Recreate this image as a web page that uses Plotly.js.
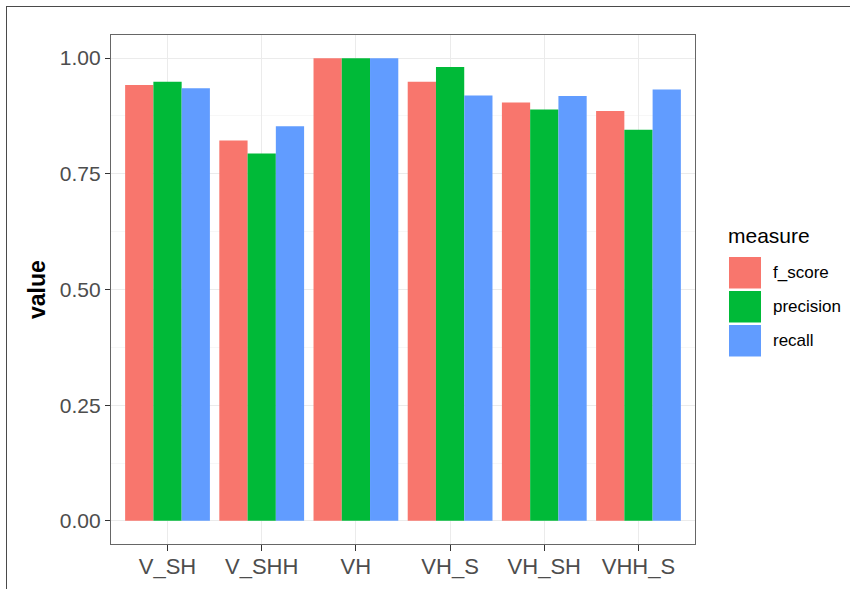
<!DOCTYPE html>
<html>
<head>
<meta charset="utf-8">
<script src="https://cdn.plot.ly/plotly-3.0.1.min.js"></script>
<style>
  html, body { margin: 0; padding: 0; background: #ffffff; }
  #wrap { position: relative; width: 850px; height: 589px; overflow: hidden; }
  #chart { width: 850px; height: 589px; }
  #frame { position: absolute; left: 6px; top: 6px; width: 900px; height: 700px;
           border-left: 1.6px solid #4a4a4a; border-top: 1.6px solid #4a4a4a; pointer-events: none; }
</style>
</head>
<body>
<div id="wrap">
  <div id="chart"></div>
  <div id="frame"></div>
</div>
<script>
// ---- data ----
const categories = ['V_SH', 'V_SHH', 'VH', 'VH_S', 'VH_SH', 'VHH_S'];
const fScore    = [0.942, 0.822, 1.000, 0.949, 0.904, 0.886];
const precision = [0.949, 0.794, 1.000, 0.981, 0.889, 0.845];
const recall    = [0.935, 0.853, 1.000, 0.919, 0.918, 0.932];
const measures  = ['f_score', 'precision', 'recall'];
const colors    = ['#F8766D', '#00BA38', '#619CFF'];
const yTicks    = [0, 0.25, 0.5, 0.75, 1.0];
const legendTitle = 'measure';
const yTitle = 'value';

const series = [fScore, precision, recall];

const traces = series.map((vals, i) => ({
  type: 'bar',
  x: categories,
  y: vals,
  name: measures[i],
  marker: { color: colors[i], line: { width: 0 } },
  showlegend: false,
  hoverinfo: 'x+y+name'
}));

// pixel helpers for the panel (left 111, right 695, top 35, bottom 544)
const L = 111, R = 695, T = 35, B = 544;
const px = v => (v - L) / (R - L);
const py = v => (B - v) / (B - T);

const shapes = [];
const annotations = [];

// y axis title
annotations.push({
  xref: 'paper', yref: 'paper', x: px(37), y: py(290),
  xanchor: 'center', yanchor: 'middle', textangle: -90, showarrow: false,
  text: '<b>' + yTitle + '</b>',
  font: { family: 'Liberation Sans, Arial, sans-serif', size: 23, color: '#000000' }
});

// legend (built from measures / colors)
annotations.push({
  xref: 'paper', yref: 'paper', x: px(726), y: py(235),
  xanchor: 'left', yanchor: 'middle', showarrow: false,
  text: legendTitle,
  font: { family: 'Liberation Sans, Arial, sans-serif', size: 21, color: '#000000' }
});
measures.forEach((m, i) => {
  const top = 257 + 34 * i;
  shapes.push({
    type: 'rect', xref: 'paper', yref: 'paper',
    x0: px(729), x1: px(761), y0: py(top), y1: py(top + 31.5),
    fillcolor: colors[i], line: { width: 0 }
  });
  annotations.push({
    xref: 'paper', yref: 'paper', x: px(771), y: py(top + 15.5),
    xanchor: 'left', yanchor: 'middle', showarrow: false,
    text: m,
    font: { family: 'Liberation Sans, Arial, sans-serif', size: 17, color: '#000000' }
  });
});

const tickFont = { family: 'Liberation Sans, Arial, sans-serif', size: 21, color: '#4D4D4D' };

const layout = {
  width: 850, height: 589,
  margin: { l: L, r: 850 - R, t: T, b: 589 - B, pad: 0 },
  paper_bgcolor: '#ffffff',
  plot_bgcolor: '#ffffff',
  barmode: 'group',
  bargap: 0.1,
  bargroupgap: 0,
  showlegend: false,
  xaxis: {
    type: 'category',
    range: [-0.6, categories.length - 0.4],
    showgrid: true, gridcolor: '#EBEBEB', gridwidth: 1.1,
    showline: true, mirror: true, linecolor: '#666666', linewidth: 1.2,
    ticks: 'outside', ticklen: 6, tickwidth: 1.2, tickcolor: '#333333',
    ticklabelstandoff: -4,
    tickfont: { family: 'Liberation Sans, Arial, sans-serif', size: 22, color: '#4D4D4D' },
    zeroline: false, fixedrange: true
  },
  yaxis: {
    range: [-0.05, 1.05],
    tickvals: yTicks,
    ticktext: yTicks.map(v => v.toFixed(2)),
    showgrid: true, gridcolor: '#EBEBEB', gridwidth: 1.1,
    minor: { tickvals: [0.125, 0.375, 0.625, 0.875], showgrid: true, gridcolor: '#F3F3F3', gridwidth: 0.7, ticks: '' },
    showline: true, mirror: true, linecolor: '#666666', linewidth: 1.2,
    ticks: 'outside', ticklen: 5, tickwidth: 1.2, tickcolor: '#333333',
    tickfont: tickFont,
    zeroline: false, fixedrange: true
  },
  shapes: shapes,
  annotations: annotations
};

Plotly.newPlot('chart', traces, layout, { displayModeBar: false, staticPlot: true });
</script>
</body>
</html>
